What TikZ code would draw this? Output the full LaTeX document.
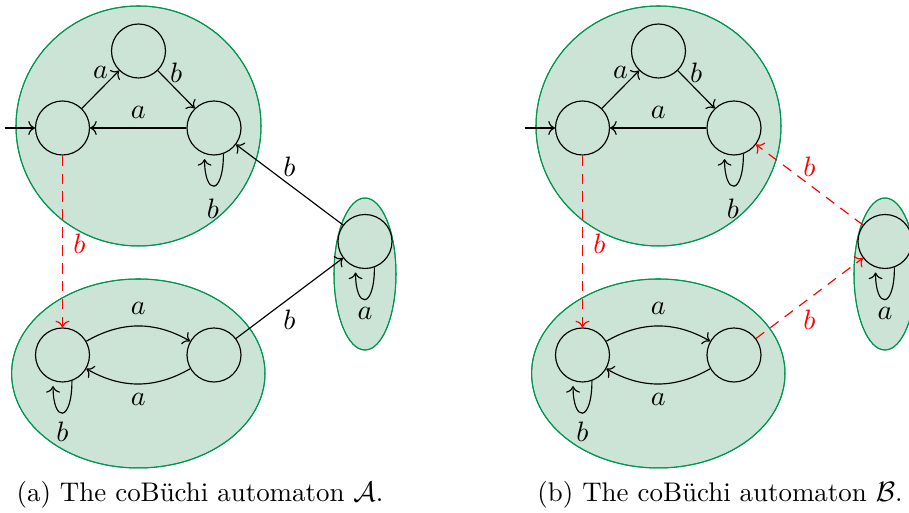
\documentclass[tikz,border=0pt]{standalone}
\usetikzlibrary{arrows.meta}
\definecolor{ellfill}{RGB}{204,228,213}
\definecolor{elldraw}{RGB}{0,150,80}
\tikzset{
  st/.style={circle,draw,minimum size=21.06pt,inner sep=0pt,line width=0.45pt},
  grp/.style={draw=elldraw,fill=ellfill,line width=0.4pt},
  tr/.style={->,line width=0.45pt},
  rtr/.style={->,red,dash pattern=on 4pt off 3pt,line width=0.45pt},
  lbl/.style={inner sep=0pt,font=\fontsize{10.7}{13}\selectfont},
  rlbl/.style={lbl,text=red},
  loopc/.style={->,shorten >=2pt,line width=0.45pt},
  captext/.style={anchor=base,font=\fontsize{10.5}{13}\selectfont}
}
\begin{document}
\begin{tikzpicture}[x=0.39pt,y=0.39pt]
\useasboundingbox (0,0) rectangle (909,513);
% ---------- panel (a) ----------
\fill[grp] (138.5,387) ellipse [x radius=122.5, y radius=120];
\fill[grp] (138.3,139.5) ellipse [x radius=126.7, y radius=94.5];
\fill[grp] (365,239) ellipse [x radius=31, y radius=76];
\draw[grp,fill=none] (138.5,387) ellipse [x radius=122.5, y radius=120];
\draw[grp,fill=none] (138.3,139.5) ellipse [x radius=126.7, y radius=94.5];
\draw[grp,fill=none] (365,239) ellipse [x radius=31, y radius=76];
\node[st] (a0) at (62.5,385) {};
\node[st] (a1) at (138.5,462) {};
\node[st] (a2) at (214,385) {};
\node[st] (a3) at (62.5,158) {};
\node[st] (a4) at (214,158) {};
\node[st] (a5) at (365,271.5) {};
\coordinate (ai) at (5,385);
\draw[tr] (ai) -- (a0);
\draw[tr] (a0) -- node[lbl,shift={(0,17)}] {$a$} (a1);
\draw[tr] (a1) -- node[lbl,shift={(0,16.5)}] {$b$} (a2);
\draw[tr] (a2) -- node[lbl,shift={(0,16)}] {$a$} (a0);
\draw[loopc] (a2.-70) .. controls +(0,-42) and +(0,-42) .. (a2.-110)
  node[lbl,pos=.5,shift={(-1,-23)}] {$b$};
\draw[rtr] (a0) -- node[rlbl,shift={(17,-2)}] {$b$} (a3);
\draw[tr] (a3) to[bend left=30] node[lbl,shift={(0,18)}] {$a$} (a4);
\draw[tr] (a4) to[bend left=30] node[lbl,shift={(0,-16)}] {$a$} (a3);
\draw[loopc] (a3.-70) .. controls +(0,-42) and +(0,-42) .. (a3.-110)
  node[lbl,pos=.5,shift={(0,-19)}] {$b$};
\draw[tr] (a4) -- node[lbl,shift={(0,-22)}] {$b$} (a5);
\draw[tr] (a5) -- node[lbl,shift={(0,18)}] {$b$} (a2);
\draw[loopc] (a5.-70) .. controls +(0,-42) and +(0,-42) .. (a5.-110)
  node[lbl,pos=.5,shift={(0,-15)}] {$a$};
\node[captext] (capa) at (200,11) {(a) The coB\"uchi automaton $\mathcal{A}$.};
% ---------- panel (b) ----------
\begin{scope}[shift={(520,0)}]
\fill[grp] (138.5,387) ellipse [x radius=122.5, y radius=120];
\fill[grp] (138.3,139.5) ellipse [x radius=126.7, y radius=94.5];
\fill[grp] (365,239) ellipse [x radius=31, y radius=76];
\draw[grp,fill=none] (138.5,387) ellipse [x radius=122.5, y radius=120];
\draw[grp,fill=none] (138.3,139.5) ellipse [x radius=126.7, y radius=94.5];
\draw[grp,fill=none] (365,239) ellipse [x radius=31, y radius=76];
\node[st] (b0) at (62.5,385) {};
\node[st] (b1) at (138.5,462) {};
\node[st] (b2) at (214,385) {};
\node[st] (b3) at (62.5,158) {};
\node[st] (b4) at (214,158) {};
\node[st] (b5) at (365,271.5) {};
\coordinate (bi) at (5,385);
\draw[tr] (bi) -- (b0);
\draw[tr] (b0) -- node[lbl,shift={(0,17)}] {$a$} (b1);
\draw[tr] (b1) -- node[lbl,shift={(0,16.5)}] {$b$} (b2);
\draw[tr] (b2) -- node[lbl,shift={(0,16)}] {$a$} (b0);
\draw[loopc] (b2.-70) .. controls +(0,-42) and +(0,-42) .. (b2.-110)
  node[lbl,pos=.5,shift={(-1,-23)}] {$b$};
\draw[rtr] (b0) -- node[rlbl,shift={(17,-2)}] {$b$} (b3);
\draw[tr] (b3) to[bend left=30] node[lbl,shift={(0,18)}] {$a$} (b4);
\draw[tr] (b4) to[bend left=30] node[lbl,shift={(0,-16)}] {$a$} (b3);
\draw[loopc] (b3.-70) .. controls +(0,-42) and +(0,-42) .. (b3.-110)
  node[lbl,pos=.5,shift={(0,-19)}] {$b$};
\draw[rtr] (b4) -- node[rlbl,shift={(0,-22)}] {$b$} (b5);
\draw[rtr] (b5) -- node[rlbl,shift={(0,18)}] {$b$} (b2);
\draw[loopc] (b5.-70) .. controls +(0,-42) and +(0,-42) .. (b5.-110)
  node[lbl,pos=.5,shift={(0,-15)}] {$a$};
\node[captext] (capb) at (200,11) {(b) The coB\"uchi automaton $\mathcal{B}$.};
\end{scope}
\end{tikzpicture}
\end{document}
